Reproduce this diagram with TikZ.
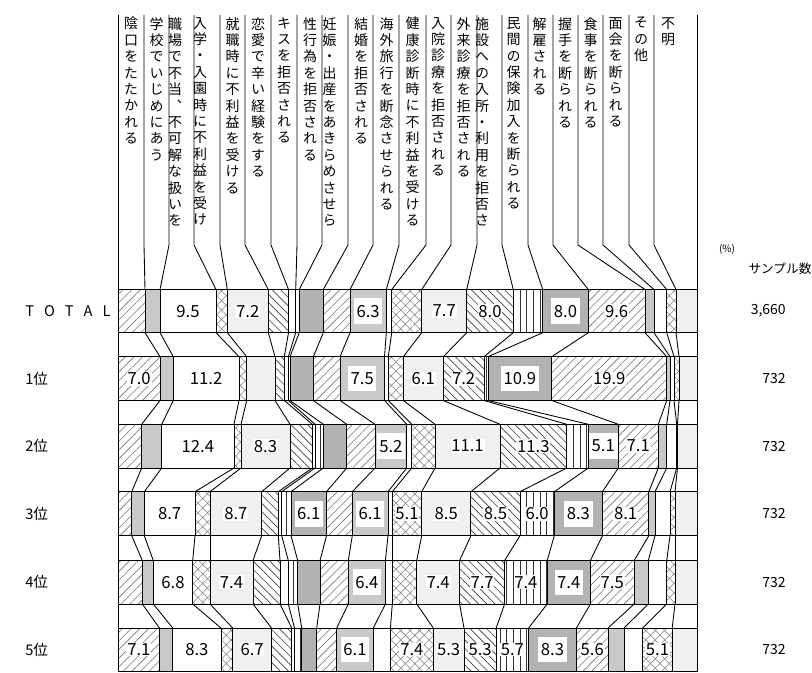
\documentclass[tikz,border=0pt]{standalone}
\usepackage{fontspec}
\setmainfont{Noto Sans CJK JP}
\newfontfamily\jpv{Noto Sans CJK JP}[RawFeature=+vert]
\usetikzlibrary{patterns.meta,calc}
\makeatletter
\def\vstack#1{\vs@first#1\relax}
\def\vs@first#1{#1\vs@rest}
\def\vs@rest#1{\ifx#1\relax\else\\#1\expandafter\vs@rest\fi}
\makeatother
\def\catstyles{pslash,pgs,pwhite,pcross,pls,pback,pwhite,pvert,pdark,pslash,pgs,pwhite,pcross,pls,pback,pvert,pdark,pslash,pgs,pwhite,pcross,pls}
\newcommand\mkrow[4]{\foreach \xx [count=\ii from 0] in {#4} {\coordinate (#1-t\ii) at (\xx,#2); \coordinate (#1-b\ii) at (\xx,#3);}}
\newcommand\fillrow[1]{\foreach \st [count=\k] in \catstyles {\pgfmathtruncatemacro\km{\k-1}\fill[\st] (#1-t\km) rectangle (#1-b\k);}}
\newcommand\linerow[1]{\draw[bar] (#1-t0) -- (#1-t22) (#1-b0) -- (#1-b22); \foreach \k in {1,...,21} {\draw[bar] (#1-t\k) -- (#1-b\k);}}
\newcommand\joinrows[2]{\foreach \k in {1,...,21} {\draw[conn] (#1-b\k) -- (#2-t\k);}}
\newcommand\val[4]{\node[val] (v#1#3) at ($(#1-t#2)!0.5!(#1-b#3)$) {#4};}
\newcommand\bval[4]{\node[bval] (v#1#3) at ($(#1-t#2)!0.5!(#1-b#3)$) {#4};}
\begin{document}
\begin{tikzpicture}[x=0.75pt,y=-0.75pt,
  bar/.style={line width=0.75pt},
  conn/.style={line width=0.65pt},
  pslash/.style={pattern={Lines[angle=45,distance=4.6pt,line width=0.45pt]},pattern color=black!55},
  pback/.style={pattern={Lines[angle=-45,distance=4.4pt,line width=0.5pt]},pattern color=black!75},
  pcross/.style={pattern={Hatch[angle=45,distance=5pt,line width=0.4pt]},pattern color=black!50},
  pvert/.style={pattern={Lines[angle=90,distance=5pt,line width=0.5pt]},pattern color=black!80},
  pgs/.style={fill=black!21},
  pdark/.style={fill=black!30},
  pls/.style={fill=black!6},
  pwhite/.style={fill=white},
  val/.style={fill=white,inner sep=0.6pt,font=\fontsize{12.5}{12.5}\selectfont},
  bval/.style={fill=white,inner xsep=2pt,inner ysep=5pt,font=\fontsize{12.5}{12.5}\selectfont},
  collab/.style={anchor=north,inner sep=0pt,align=center,font=\jpv\fontsize{10.5}{12.3}\selectfont},
  rowlab/.style={anchor=west,inner sep=0pt,font=\fontsize{11}{12}\selectfont},
  nlab/.style={anchor=east,inner sep=0pt,font=\fontsize{10.5}{12}\selectfont}]
\useasboundingbox (0,0) rectangle (812,673);
% rows
\mkrow{A}{289.5}{332.7}{118.3,145,160,216,227.3,268.3,288.5,295.7,299.3,323.3,350,386.3,391.7,421.7,466.7,513.3,542.7,588.3,645,654,666.7,676,697.7}
\mkrow{B}{356.7}{400.5}{118.3,160,173.3,239,246.7,275,284.3,288.3,290,313.3,340,384.5,388.3,403.3,443.3,484,488,551.7,666.7,670,674,679,697.7}
\mkrow{C}{424.3}{468}{118.3,141.7,161.7,234,241,290,312.3,315,323.3,346.7,375,406.7,411.7,435,500,566.7,588.3,618.3,658.3,666.7,676.7,677.5,697.7}
\mkrow{D}{491.7}{535.7}{118.3,131.7,144.3,195,210,261.7,278.3,281.7,291,326.5,352.3,388,392.3,421.7,470.9,520,554.3,602.4,648.8,655,670,675,697.7}
\mkrow{E}{560.5}{604}{118.3,142.3,153.3,192.7,210,253,280,288.3,297.7,320,348.3,385.4,392.3,416.7,459.6,504.6,547.2,590.4,634.2,648.3,666.7,675,697.7}
\mkrow{F}{628}{671}{118.3,159.4,172.7,221,232.7,271.5,291.7,294.5,301.7,316.7,336.7,373.3,390.4,433.3,464,496.2,528.6,576.4,608,624,642.7,672.2,697.7}
\foreach \r in {A,B,C,D,E,F} {\fillrow{\r}}
% column lines
\foreach \xx [count=\ii from 0] in {118.3,144,169,194,220,245,271,297,322,348,373,399,426,451,477,502,528,553,578,603,629,654,697.7} {\coordinate (c\ii) at (\xx,15); \coordinate (d\ii) at (\xx,245);}
\foreach \k in {1,...,21} {\draw[conn] (c\k) -- (d\k) -- (A-t\k);}
\draw[bar] (c0) -- (F-b0);
\draw[bar] (c22) -- (F-b22);
\joinrows{A}{B}\joinrows{B}{C}\joinrows{C}{D}\joinrows{D}{E}\joinrows{E}{F}
\foreach \r in {A,B,C,D,E,F} {\linerow{\r}}
% column labels
\node[collab] (L1) at (131,17) {\vstack{陰口をたたかれる}};
\node[collab] (L2) at (156.5,17) {\vstack{学校でいじめにあう}};
\node[collab] (L3) at (175,17) {\vstack{職場で不当、不可解な扱いを}};
\node[collab] (L4) at (200,17) {\vstack{入学・入園時に不利益を受け}};
\node[collab] (L5) at (232.5,17) {\vstack{就職時に不利益を受ける}};
\node[collab] (L6) at (258,17) {\vstack{恋愛で辛い経験をする}};
\node[collab] (L7) at (284,17) {\vstack{キスを拒否される}};
\node[collab] (L8) at (310,17) {\vstack{性行為を拒否される}};
\node[collab] (L9) at (329.5,17) {\vstack{妊娠・出産をあきらめさせら}};
\node[collab] (L10) at (361,17) {\vstack{結婚を拒否される}};
\node[collab] (L11) at (386.5,17) {\vstack{海外旅行を断念させられる}};
\node[collab] (L12) at (412.5,17) {\vstack{健康診断時に不利益を受ける}};
\node[collab] (L13) at (438,17) {\vstack{入院診療を拒否される}};
\node[collab] (L14) at (463.5,17) {\vstack{外来診療を拒否される}};
\node[collab] (L15) at (482,17) {\vstack{施設への入所・利用を拒否さ}};
\node[collab] (L16) at (513.5,17) {\vstack{民間の保険加入を断られる}};
\node[collab] (L17) at (539.5,17) {\vstack{解雇される}};
\node[collab] (L18) at (565,17) {\vstack{握手を断られる}};
\node[collab] (L19) at (590.5,17) {\vstack{食事を断られる}};
\node[collab] (L20) at (615.5,17) {\vstack{面会を断られる}};
\node[collab] (L21) at (641,17) {\vstack{その他}};
\node[collab] (L22) at (668,17) {\vstack{不明}};
% values
\val{A}{2}{3}{9.5}\val{A}{4}{5}{7.2}\bval{A}{10}{11}{6.3}\val{A}{13}{14}{7.7}\val{A}{14}{15}{8.0}\bval{A}{16}{17}{8.0}\val{A}{17}{18}{9.6}
\val{B}{0}{1}{7.0}\val{B}{2}{3}{11.2}\bval{B}{10}{11}{7.5}\val{B}{13}{14}{6.1}\val{B}{14}{15}{7.2}\bval{B}{16}{17}{10.9}\val{B}{17}{18}{19.9}
\val{C}{2}{3}{12.4}\val{C}{4}{5}{8.3}\bval{C}{10}{11}{5.2}\val{C}{13}{14}{11.1}\val{C}{14}{15}{11.3}\bval{C}{16}{17}{5.1}\val{C}{17}{18}{7.1}
\val{D}{2}{3}{8.7}\val{D}{4}{5}{8.7}\bval{D}{8}{9}{6.1}\bval{D}{10}{11}{6.1}\val{D}{12}{13}{5.1}\val{D}{13}{14}{8.5}\val{D}{14}{15}{8.5}\val{D}{15}{16}{6.0}\bval{D}{16}{17}{8.3}\val{D}{17}{18}{8.1}
\val{E}{2}{3}{6.8}\val{E}{4}{5}{7.4}\bval{E}{10}{11}{6.4}\val{E}{13}{14}{7.4}\val{E}{14}{15}{7.7}\val{E}{15}{16}{7.4}\bval{E}{16}{17}{7.4}\val{E}{17}{18}{7.5}
\val{F}{0}{1}{7.1}\val{F}{2}{3}{8.3}\val{F}{4}{5}{6.7}\bval{F}{10}{11}{6.1}\val{F}{12}{13}{7.4}\val{F}{13}{14}{5.3}\val{F}{14}{15}{5.3}\val{F}{15}{16}{5.7}\bval{F}{16}{17}{8.3}\val{F}{17}{18}{5.6}\val{F}{20}{21}{5.1}
% row labels
\node[rowlab] (rA) at (25,311) {T\hspace{7.5pt}O\hspace{7.5pt}T\hspace{7.5pt}A\hspace{7.5pt}L};
\node[rowlab] (rB) at (25,378.6) {1位};
\node[rowlab] (rC) at (25,446.2) {2位};
\node[rowlab] (rD) at (25,513.7) {3位};
\node[rowlab] (rE) at (25,582.3) {4位};
\node[rowlab] (rF) at (25,649.5) {5位};
% sample sizes
\node[inner sep=0pt,font=\fontsize{7.5}{9}\selectfont] (pct) at (727,249) {(\%)};
\node[inner sep=0pt,font=\fontsize{9.5}{11}\selectfont] (smp) at (780,269) {サンプル数};
\node[nlab] (nA) at (786,311) {3,660};
\node[nlab] (nB) at (786,378.6) {732};
\node[nlab] (nC) at (786,446.2) {732};
\node[nlab] (nD) at (786,513.7) {732};
\node[nlab] (nE) at (786,582.3) {732};
\node[nlab] (nF) at (786,649.5) {732};
\end{tikzpicture}
\end{document}
